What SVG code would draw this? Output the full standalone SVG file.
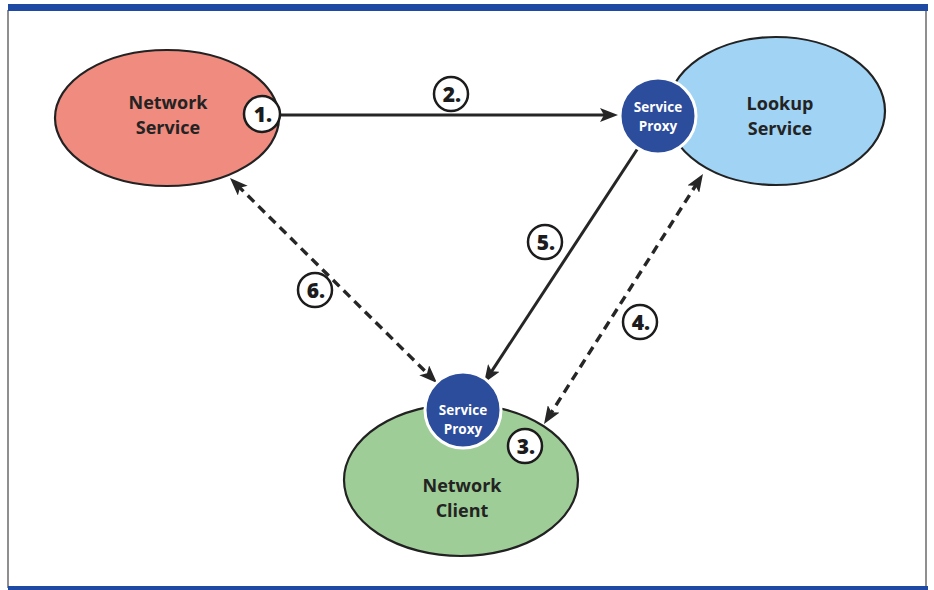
<svg xmlns="http://www.w3.org/2000/svg" width="934" height="590" viewBox="0 0 934 590">
<defs>
<style>
.frame{fill:none;stroke:#6a6a6a;stroke-width:1.5}
.bar{fill:#1f4aa3}
.ell{stroke:#222;stroke-width:2.2}
.proxy{fill:#2c4c9c;stroke:#fff;stroke-width:3}
.lbl{font-family:"Open Sans","Liberation Sans",sans-serif;font-weight:700;font-size:18px;fill:#232323;text-anchor:middle}
.plbl{font-family:"Open Sans","Liberation Sans",sans-serif;font-weight:700;font-size:13.5px;fill:#fff;text-anchor:middle}
.num circle{fill:#fff;stroke:#1c1c1c;stroke-width:2.5}
.num text{font-family:"Open Sans","Liberation Sans",sans-serif;font-weight:800;font-size:21px;fill:#1c1c1c;text-anchor:middle}
.solid{fill:none;stroke:#262626;stroke-width:3}
.dash{fill:none;stroke:#262626;stroke-width:3.4;stroke-dasharray:9 6}
</style>
<marker id="ah" viewBox="0 0 18 14" markerWidth="18" markerHeight="14" refX="8" refY="7" orient="auto-start-reverse" markerUnits="userSpaceOnUse">
<path d="M0,0 L18,7 L0,14 L4,7 z" fill="#262626"/>
</marker>
</defs>
<rect x="0" y="0" width="934" height="590" fill="#fff"/>
<g id="frame">
<line class="frame" x1="8" y1="10" x2="8" y2="588"/>
<line class="frame" x1="926" y1="10" x2="926" y2="588"/>
<rect class="bar" x="8" y="4" width="920" height="7"/>
<rect class="bar" x="8" y="586" width="920" height="4"/>
</g>
<g id="connectors">
<line class="solid" x1="281" y1="115" x2="608" y2="115" marker-end="url(#ah)"/>
<line class="solid" x1="640" y1="145" x2="489.5" y2="374.6" marker-end="url(#ah)"/>
<line class="dash" x1="697.6" y1="182.4" x2="549.4" y2="415.6" marker-start="url(#ah)" marker-end="url(#ah)"/>
<line class="dash" x1="237.1" y1="185" x2="429.9" y2="376" marker-start="url(#ah)" marker-end="url(#ah)"/>
</g>
<g id="network-service">
<ellipse class="ell" cx="167" cy="118" rx="112" ry="68" fill="#f08b7f"/>
<text class="lbl" x="168" y="109">Network</text>
<text class="lbl" x="168" y="133.5">Service</text>
</g>
<g id="lookup-service">
<ellipse class="ell" cx="776" cy="111" rx="109" ry="74" fill="#a0d3f4"/>
<text class="lbl" x="780" y="110">Lookup</text>
<text class="lbl" x="780" y="134.5">Service</text>
</g>
<g id="lookup-proxy">
<circle class="proxy" cx="658" cy="116" r="38"/>
<text class="plbl" x="658" y="112">Service</text>
<text class="plbl" x="658" y="130.5">Proxy</text>
</g>
<g id="network-client">
<ellipse class="ell" cx="461" cy="480" rx="117" ry="76" fill="#9fcd97"/>
<text class="lbl" x="462" y="492">Network</text>
<text class="lbl" x="462" y="516.5">Client</text>
</g>
<g id="client-proxy">
<circle class="proxy" cx="463" cy="410" r="38"/>
<text class="plbl" x="463" y="415">Service</text>
<text class="plbl" x="463" y="433.5">Proxy</text>
</g>
<g id="labels">
<g class="num" id="n1"><circle cx="262" cy="114" r="18"/><text x="263" y="122">1.</text></g>
<g class="num" id="n2"><circle cx="451" cy="94" r="17"/><text x="452" y="102">2.</text></g>
<g class="num" id="n3"><circle cx="525" cy="446" r="17"/><text x="526" y="454">3.</text></g>
<g class="num" id="n4"><circle cx="640" cy="322" r="17"/><text x="641" y="330">4.</text></g>
<g class="num" id="n5"><circle cx="545" cy="242" r="17"/><text x="546" y="250">5.</text></g>
<g class="num" id="n6"><circle cx="315" cy="290" r="17"/><text x="316" y="298">6.</text></g>
</g>
</svg>
